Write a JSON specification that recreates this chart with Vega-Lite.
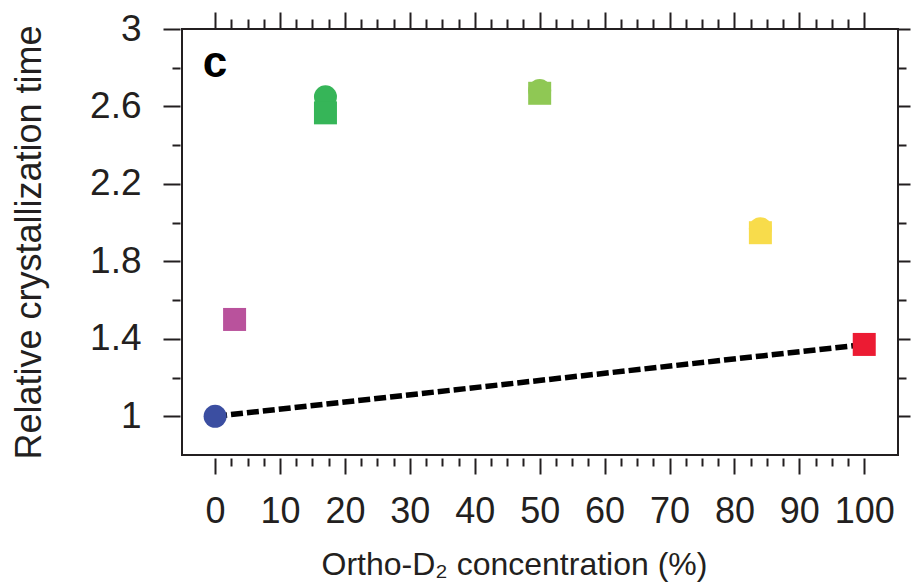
{
  "$schema": "https://vega.github.io/schema/vega-lite/v6.json",
  "width": 716,
  "height": 426,
  "autosize": {"type": "none"},
  "padding": {"left": 182, "top": 29, "right": 13, "bottom": 127},
  "background": "white",
  "config": {
    "view": {"stroke": "#231f20", "strokeWidth": 2},
    "font": "Liberation Sans",
    "axis": {"grid": false, "domain": false, "tickColor": "#231f20", "tickWidth": 2, "labelColor": "#231f20", "titleColor": "#231f20", "labelFont": "Liberation Sans", "titleFont": "Liberation Sans", "titleFontWeight": "normal", "labelOverlap": false, "labelFlush": false, "labelBound": false}
  },
  "datasets": {
    "points": [
      {"conc": 0, "time": 1.0, "sample": "0%", "marker": "circle"},
      {"conc": 3, "time": 1.5, "sample": "3%", "marker": "square"},
      {"conc": 17, "time": 2.65, "sample": "17%", "marker": "circle"},
      {"conc": 17, "time": 2.567, "sample": "17%", "marker": "square"},
      {"conc": 50, "time": 2.683, "sample": "50%", "marker": "circle"},
      {"conc": 50, "time": 2.668, "sample": "50%", "marker": "square"},
      {"conc": 84, "time": 1.969, "sample": "84%", "marker": "circle"},
      {"conc": 84, "time": 1.948, "sample": "84%", "marker": "square"},
      {"conc": 100, "time": 1.371, "sample": "100%", "marker": "square"}
    ],
    "fit": [
      {"conc": 0, "time": 1.0},
      {"conc": 100, "time": 1.37}
    ],
    "panel": [
      {"conc": 0, "time": 2.75, "label": "c"}
    ]
  },
  "resolve": {"axis": {"x": "independent", "y": "independent"}},
  "layer": [
    {
      "data": {"name": "fit"},
      "mark": {"type": "line", "color": "black", "strokeWidth": 5.5, "strokeDash": [12, 4]},
      "encoding": {
        "x": {"field": "conc", "type": "quantitative", "scale": {"domain": [-5.1, 105.2], "nice": false, "zero": false},
          "axis": {"orient": "bottom", "values": [0,2.5,5,7.5,10,12.5,15,17.5,20,22.5,25,27.5,30,32.5,35,37.5,40,42.5,45,47.5,50,52.5,55,57.5,60,62.5,65,67.5,70,72.5,75,77.5,80,82.5,85,87.5,90,92.5,95,97.5,100],
            "tickSize": {"condition": {"test": "datum.value % 10 === 0", "value": 16}, "value": 8},
            "labelExpr": "datum.value % 10 === 0 ? datum.label : ''",
            "format": "~g", "offset": 3, "labelFontSize": 36, "labelPadding": 20,
            "title": "Ortho-D₂ concentration (%)", "titleFontSize": 32, "titlePadding": 20, "titleX": 332}},
        "y": {"field": "time", "type": "quantitative", "scale": {"domain": [0.8, 3.0], "nice": false, "zero": false},
          "axis": {"orient": "left", "values": [1,1.2,1.4,1.6,1.8,2,2.2,2.4,2.6,2.8,3],
            "tickSize": {"condition": {"test": "round(datum.value*10) % 4 === 2", "value": 17}, "value": 8},
            "labelExpr": "round(datum.value*10) % 4 === 2 ? datum.label : ''",
            "format": "~g", "offset": 2, "labelFontSize": 37, "labelPadding": 22,
            "title": "Relative crystallization time", "titleFontSize": 36, "titlePadding": 41}}
      }
    },
    {
      "data": {"name": "points"},
      "transform": [{"filter": "datum.marker === 'circle'"}],
      "mark": {"type": "point", "shape": "circle", "filled": true, "opacity": 1, "size": 529},
      "encoding": {
        "x": {"field": "conc", "type": "quantitative",
          "axis": {"orient": "top", "values": [0,2.5,5,7.5,10,12.5,15,17.5,20,22.5,25,27.5,30,32.5,35,37.5,40,42.5,45,47.5,50,52.5,55,57.5,60,62.5,65,67.5,70,72.5,75,77.5,80,82.5,85,87.5,90,92.5,95,97.5,100],
            "tickSize": {"condition": {"test": "datum.value % 10 === 0", "value": 17}, "value": 10},
            "labels": false, "title": null}},
        "y": {"field": "time", "type": "quantitative",
          "axis": {"orient": "right", "values": [1,1.2,1.4,1.6,1.8,2,2.2,2.4,2.6,2.8,3],
            "tickSize": {"condition": {"test": "round(datum.value*10) % 4 === 2", "value": 12}, "value": 8},
            "labels": false, "title": null}},
        "color": {"field": "sample", "type": "nominal", "legend": null,
          "scale": {"domain": ["0%", "3%", "17%", "50%", "84%", "100%"], "range": ["#3b4ea1", "#b9529c", "#36b558", "#8fc854", "#f8dc4b", "#ec1b33"]}}
      }
    },
    {
      "data": {"name": "points"},
      "transform": [{"filter": "datum.marker === 'square'"}],
      "mark": {"type": "point", "shape": "square", "filled": true, "opacity": 1, "size": 529},
      "encoding": {
        "x": {"field": "conc", "type": "quantitative", "axis": null},
        "y": {"field": "time", "type": "quantitative", "axis": null},
        "color": {"field": "sample", "type": "nominal", "legend": null}
      }
    },
    {
      "data": {"name": "panel"},
      "mark": {"type": "text", "fontSize": 44, "fontWeight": "bold", "align": "center", "baseline": "alphabetic", "color": "black"},
      "encoding": {
        "x": {"field": "conc", "type": "quantitative", "axis": null},
        "y": {"field": "time", "type": "quantitative", "axis": null},
        "text": {"field": "label"}
      }
    }
  ]
}
